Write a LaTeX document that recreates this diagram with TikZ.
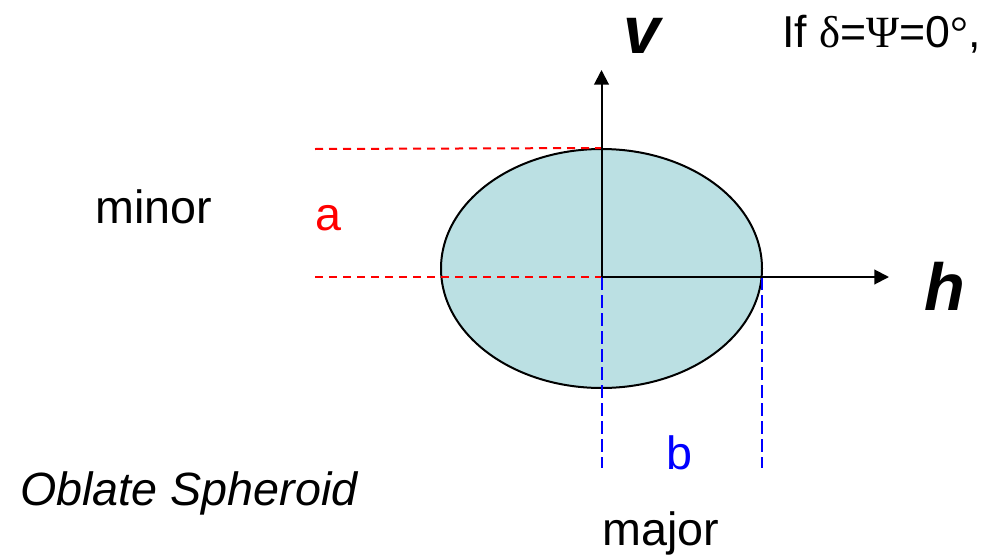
\documentclass[tikz,border=0pt]{standalone}
\usepackage{fontspec}
\setmainfont{Liberation Sans}
\newfontfamily\greekfont{Liberation Serif}
\usetikzlibrary{arrows.meta,shapes.geometric}

\begin{document}
\begin{tikzpicture}[x=0.75pt,y=-0.75pt]
\tikzset{
  label/.style={inner sep=0pt,anchor=base west,font=\fontsize{35}{42}\selectfont},
  axislabel/.style={inner sep=0pt,anchor=base,font=\fontsize{50}{60}\selectfont\bfseries\itshape},
  axis/.style={draw=black,line width=1.5pt,-{Triangle[length=11pt,width=11pt]}},
  reddash/.style={draw=red,line width=1.5pt,dash pattern=on 6pt off 4.5pt},
  bluedash/.style={draw=blue,line width=1.5pt,dash pattern=on 9.5pt off 4pt}
}
\useasboundingbox (0,0) rectangle (1008,557);
\definecolor{spheroidfill}{RGB}{187,224,227}
\node[ellipse,draw=black,line width=1.5pt,fill=spheroidfill,minimum width=240.75pt,minimum height=179.25pt,inner sep=0pt] (spheroid) at (601.5,268.5) {};
\coordinate (o) at (601.5,277);
\coordinate (vtip) at (601.5,70);
\coordinate (htip) at (889,277);
\coordinate (a_top) at (315,149);
\coordinate (a_bot) at (315,277);
\coordinate (b_left) at (601.5,468);
\coordinate (b_right) at (762,468);
\coordinate (b_rtop) at (762,277);
\draw[reddash] (a_top) -- (spheroid.north);
\draw[reddash] (a_bot) -- (o);
\draw[bluedash] (o) -- (b_left);
\draw[bluedash] (b_rtop) -- (b_right);
\draw[axis] (o) -- (vtip);
\draw[axis] (o) -- (htip);
\node[axislabel] (v_lbl) at (642,53) {v};
\node[axislabel] (h_lbl) at (945,310) {h};
\node[label,font=\fontsize{33.5}{40}\selectfont] (cond) at (782,47) {If {\greekfont δ}={\greekfont Ψ}=0{\greekfont °},};
\node[label] (minor_lbl) at (95,223) {minor};
\node[label,text=red] (a_lbl) at (315,230) {a};
\node[label,text=blue] (b_lbl) at (666,469) {b};
\node[label,font=\fontsize{35}{42}\selectfont\itshape] (oblate) at (20,505) {Oblate Spheroid};
\node[label] (major_lbl) at (602,545) {major};
\end{tikzpicture}
\end{document}
